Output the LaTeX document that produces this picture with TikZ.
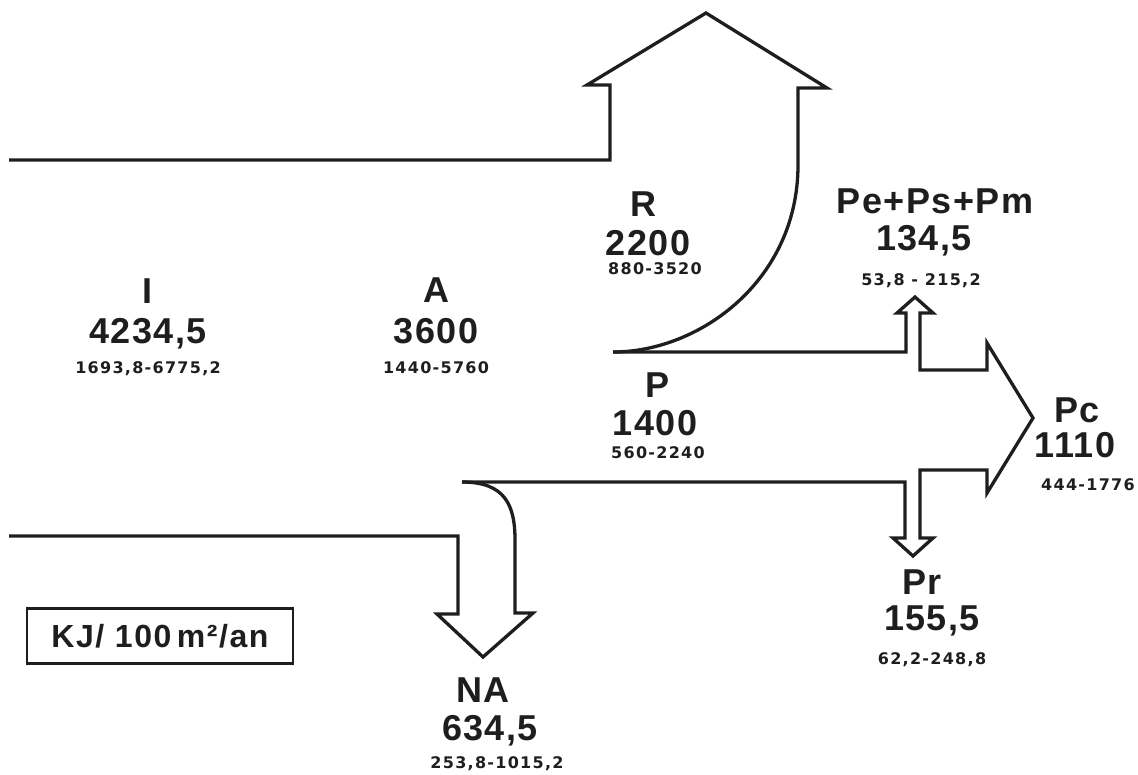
\documentclass[tikz,border=0pt]{standalone}
\usepackage{fontspec}
\newfontfamily\lblfont{Liberation Sans}[LetterSpace=4]
\newfontfamily\rngfont{DejaVu Sans}[LetterSpace=8]
\newfontfamily\unitfont{Liberation Sans}[LetterSpace=5]
\definecolor{ink}{HTML}{1E1E1E}
\tikzset{
  flow/.style={draw=ink, line width=3.3pt, line join=miter, miter limit=10},
  big/.style={font=\lblfont\bfseries\fontsize{36}{36}\selectfont, text=ink, inner sep=0pt, anchor=base},
  rng/.style={font=\rngfont\bfseries\fontsize{16}{16}\selectfont, text=ink, inner sep=0pt, anchor=base},
  unitbox/.style={draw=ink, line width=2.5pt, inner sep=0pt, minimum width=266pt, minimum height=55pt,
    font=\unitfont\bfseries\fontsize{32}{32}\selectfont, text=ink}
}
\begin{document}
\begin{tikzpicture}[x=1pt,y=-1pt]
\useasboundingbox (0,0) rectangle (1138,774);
% outline coordinates
\coordinate (iT) at (9,160);
\coordinate (rL) at (610,160);
\coordinate (rLt) at (610,85);
\coordinate (rLb) at (587,85);
\coordinate (rTip) at (706,13);
\coordinate (rRb) at (827,88);
\coordinate (rRt) at (798,88);
\coordinate (rRc) at (798,165);
\coordinate (pT) at (613,352);
\coordinate (eL) at (906,352);
\coordinate (eLt) at (906,313);
\coordinate (eLb) at (897,313);
\coordinate (eTip) at (915,297);
\coordinate (eRb) at (933,313);
\coordinate (eRt) at (920,313);
\coordinate (cT) at (920,370);
\coordinate (cTs) at (987,370);
\coordinate (cTb) at (987,343);
\coordinate (cTip) at (1033,418);
\coordinate (cBb) at (987,493);
\coordinate (cBs) at (987,470);
\coordinate (cB) at (920,470);
\coordinate (qR) at (920,538);
\coordinate (qRb) at (933,538);
\coordinate (qTip) at (913,556);
\coordinate (qLb) at (893,538);
\coordinate (qL) at (905,538);
\coordinate (pB) at (905,482);
\coordinate (nC) at (462,482);
\coordinate (nR) at (515,540);
\coordinate (nRt) at (515,613);
\coordinate (nRb) at (533,613);
\coordinate (nTip) at (483,657);
\coordinate (nLb) at (437,614);
\coordinate (nL) at (458,614);
\coordinate (iBc) at (458,536);
\coordinate (iB) at (9,536);
% outline
\draw[flow] (iT) -- (rL) -- (rLt) -- (rLb) -- (rTip) -- (rRb) -- (rRt) -- (rRc)
  .. controls (798,280) and (700,352) .. (pT);
\draw[flow] (pT) -- (eL) -- (eLt) -- (eLb) -- (eTip) -- (eRb) -- (eRt) -- (cT) -- (cTs) -- (cTb)
  -- (cTip) -- (cBb) -- (cBs) -- (cB) -- (qR) -- (qRb) -- (qTip) -- (qLb) -- (qL) -- (pB) -- (nC);
\draw[flow] (nC) .. controls (505,482) and (515,505) .. (nR) -- (nRt) -- (nRb) -- (nTip) -- (nLb)
  -- (nL) -- (iBc) -- (iB);
% labels
\node[big] (lI) at (147,303) {I};
\node[big] (vI) at (148,343) {4234,5};
\node[rng] (gI) at (148,373) {1693,8-6775,2};
\node[big] (lA) at (436,302) {A};
\node[big] (vA) at (436,343) {3600};
\node[rng] (gA) at (436,373) {1440-5760};
\node[big] (lR) at (643,216) {R};
\node[big] (vR) at (648,255) {2200};
\node[rng] (gR) at (655,274) {880-3520};
\node[big] (lE) at (935,213) {Pe+Ps+Pm};
\node[big] (vE) at (924,250) {134,5};
\node[rng] (gE) at (921,285) {53,8 - 215,2};
\node[big] (lP) at (657,397) {P};
\node[big] (vP) at (655,435) {1400};
\node[rng] (gP) at (658,458) {560-2240};
\node[big] (lC) at (1077,422) {Pc};
\node[big] (vC) at (1075,457) {1110};
\node[rng] (gC) at (1088,490) {444-1776};
\node[big] (lQ) at (922,594) {Pr};
\node[big] (vQ) at (932,630) {155,5};
\node[rng] (gQ) at (932,664) {62,2-248,8};
\node[big] (lN) at (483,702) {NA};
\node[big] (vN) at (490,740) {634,5};
\node[rng] (gN) at (497,768) {253,8-1015,2};
\node[unitbox] (unit) at (160,636) {KJ/ 100\,m²/an};
\end{tikzpicture}
\end{document}
